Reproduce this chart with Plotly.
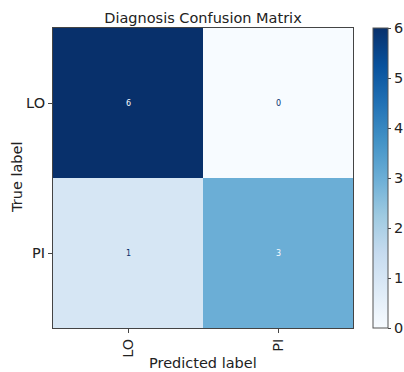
import plotly.graph_objects as go

labels = ["LO", "PI"]
matrix = [[6, 0], [1, 3]]

blues = [[0.0, "#f7fbff"], [0.125, "#deebf7"], [0.25, "#c6dbef"], [0.375, "#9ecae1"],
         [0.5, "#6baed6"], [0.625, "#4292c6"], [0.75, "#2171b5"], [0.875, "#08519c"],
         [1.0, "#08306b"]]

FS = 14.5
TXT = "#222222"
W, H = 404, 372

fig = go.Figure()
fig.add_trace(go.Heatmap(
    z=matrix, x=[0, 1], y=[0, 1], colorscale=blues, zmin=0, zmax=6,
    showscale=True, hoverinfo="skip",
    colorbar=dict(thickness=15, len=1, lenmode="fraction",
                  x=20 / 300 + 1, xanchor="left",
                  y=0.5, yanchor="middle",
                  xpad=0, ypad=0,
                  outlinewidth=1, outlinecolor="#555",
                  tickvals=[0, 1, 2, 3, 4, 5, 6], ticks="outside", ticklen=3,
                  tickcolor="#444",
                  tickfont=dict(size=FS, color=TXT, family="DejaVu Sans")),
))

vmax = 6
for i, row in enumerate(matrix):
    for j, v in enumerate(row):
        color = "#f7fbff" if v > vmax / 2 - 0.01 else "#08306b"
        fig.add_annotation(x=j, y=i, text=str(v), showarrow=False,
                           font=dict(size=8, color=color, family="DejaVu Sans"))

fig.add_annotation(text="Predicted label", xref="paper", yref="paper", x=0.5, y=-35 / 300,
                   xanchor="center", yanchor="middle", showarrow=False,
                   font=dict(size=FS, color=TXT))
fig.add_annotation(text="True label", xref="paper", yref="paper", x=-36 / 300, y=0.5,
                   xanchor="center", yanchor="middle", showarrow=False, textangle=-90,
                   font=dict(size=FS, color=TXT))

fig.update_layout(
    width=W, height=H,
    margin=dict(l=53, r=51, t=28, b=44, autoexpand=False),
    plot_bgcolor="white", paper_bgcolor="white",
    font=dict(family="DejaVu Sans", color=TXT),
    title=dict(text="Diagnosis Confusion Matrix", x=0.5, xref="paper", xanchor="center",
               y=1 - 18 / H, yref="container", yanchor="middle",
               font=dict(size=FS, color=TXT)),
    xaxis=dict(tickvals=[0, 1], ticktext=labels, tickangle=-90, range=[-0.5, 1.5],
               ticks="outside", ticklen=4, tickcolor="#444", showgrid=False, zeroline=False,
               showline=True, mirror=True, linecolor="#444", linewidth=1,
               tickfont=dict(size=FS), automargin=False),
    yaxis=dict(tickvals=[0, 1], ticktext=labels, range=[1.5, -0.5],
               ticks="outside", ticklen=4, tickcolor="#444", showgrid=False, zeroline=False,
               showline=True, mirror=True, linecolor="#444", linewidth=1,
               tickfont=dict(size=FS), automargin=False),
)

fig.write_html("out.html", config={"displayModeBar": False},
               post_script="document.body.style.margin='0';document.body.style.overflow='hidden';")
